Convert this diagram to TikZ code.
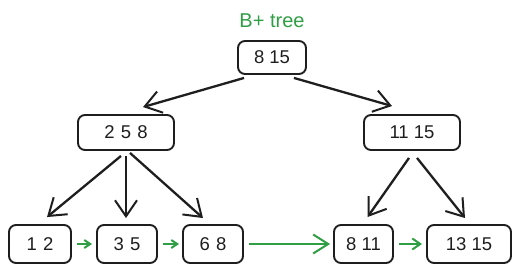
\documentclass[tikz,border=0pt]{standalone}
\usepackage{fontspec}
\setmainfont{Liberation Sans}
\usetikzlibrary{arrows.meta,calc}
\definecolor{exgreen}{HTML}{2F9E44}
\definecolor{exblack}{HTML}{1E1E1E}
\begin{document}
\begin{tikzpicture}[x=1pt,y=-1pt,
  box/.style={draw=exblack,line width=1.9pt,rounded corners=7pt,inner sep=0pt,font=\fontsize{18.5}{20}\selectfont,text=exblack},
  tree/.style={draw=exblack,line width=2.3pt,-{Straight Barb[length=16pt,width=22pt,line width=2pt]}},
  link/.style={draw=exgreen,line width=2pt,-{Straight Barb[length=6pt,width=8pt,line width=2pt]}},
  longlink/.style={draw=exgreen,line width=2pt,-{Straight Barb[length=15pt,width=19pt,line width=2pt]}}]
\useasboundingbox (0,0) rectangle (521,273);
\node[text=exgreen,font=\fontsize{20}{22}\selectfont] (title) at (272,21) {B+ tree};
\node[box,minimum width=68pt,minimum height=33pt] (root) at (272,57.5) {8 15};
\node[box,minimum width=96pt,minimum height=35pt] (n258) at (126,132.5) {2\,\,5\,\,8};
\node[box,minimum width=96pt,minimum height=35pt] (n1115) at (412,132.5) {11 15};
\node[box,minimum width=62pt,minimum height=38pt] (n12) at (40,244) {1\,\,2};
\node[box,minimum width=60pt,minimum height=38pt] (n35) at (127,244) {3\,\,5};
\node[box,minimum width=60pt,minimum height=38pt] (n68) at (213,244) {6\,\,8};
\node[box,minimum width=59pt,minimum height=38pt] (n811) at (363.5,244) {8 11};
\node[box,minimum width=84pt,minimum height=38pt] (n1315) at (469,244) {13 15};
% tree arrows
\draw[tree] ($(root.south west)+(7,3)$) -- ($(n258.north)+(17,-7)$);
\draw[tree] ($(root.south east)+(-13,3)$) -- ($(n1115.north)+(-20,-8)$);
\draw[tree] ($(n258.south)+(-5,5)$) -- ($(n12.north)+(7,-7)$);
\draw[tree] ($(n258.south)+(0,5)$) -- ($(n35.north)+(-1,-6)$);
\draw[tree] ($(n258.south)+(4,2)$) -- ($(n68.north)+(-10,-6)$);
\draw[tree] ($(n1115.south)+(-3,7)$) -- ($(n811.north)+(4,-7)$);
\draw[tree] ($(n1115.south)+(5,7)$) -- ($(n1315.north)+(-4,-6)$);
% leaf links
\draw[link] ($(n12.east)+(5,0)$) -- ($(n35.west)+(-4,0)$);
\draw[link] ($(n35.east)+(5,0)$) -- ($(n68.west)+(-3,0)$);
\draw[longlink] ($(n68.east)+(5,0)$) -- ($(n811.west)+(-3,0)$);
\draw[link,-{Straight Barb[length=8pt,width=11pt,line width=2pt]}] ($(n811.east)+(5,0)$) -- ($(n1315.west)+(-4,0)$);
\end{tikzpicture}
\end{document}
